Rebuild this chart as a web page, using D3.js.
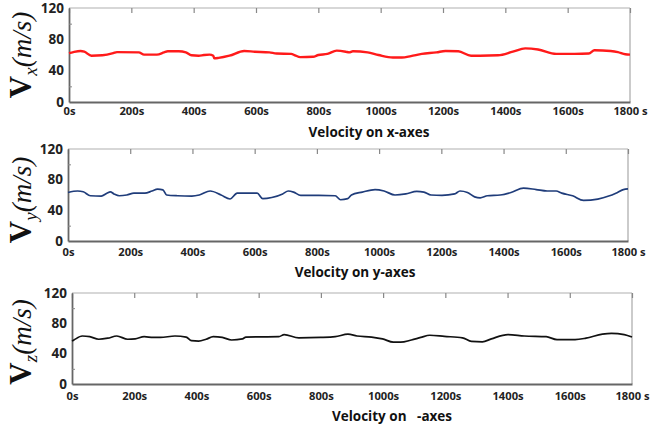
<!DOCTYPE html>
<html><head><meta charset="utf-8">
<script src="https://cdn.jsdelivr.net/npm/d3@7"></script>
<style>
html,body{margin:0;padding:0;background:#fff;}
svg{display:block;}
</style></head>
<body>
<svg id="chart" width="651" height="427"></svg>
<script>
// ---- data ----
const xTickValues = [0,200,400,600,800,1000,1200,1400,1600,1800];
const xTickLabels = ["0s","200s","400s","600s","800s","1000s","1200s","1400s","1600s","1800 s"];
const yTickValues = [0,40,80,120];
const titles = ["Velocity on x-axes","Velocity on y-axes","Velocity on   -axes"];
const subscripts = ["x","y","z"];

const vxTime = [0,14,37,49,72,107,142,154,224,241,282,305,317,352,375,393,416,433,451,463,466,480,515,562,596,643,666,713,725,742,783,800,829,859,888,899,911,958,993,1039,1068,1097,1132,1179,1208,1249,1290,1319,1377,1424,1464,1505,1563,1622,1668,1686,1738,1761,1785,1800];
const vxValues = [62.3,63.7,65.1,64.2,59.1,59.6,62.3,63.7,63.3,60.5,60.5,63.3,64.7,64.7,63.3,59.6,59.1,60.0,60.5,59.1,55.8,56.3,59.1,65.1,64.2,63.3,61.9,61.4,59.6,57.3,57.7,60.0,61.4,65.6,64.2,63.3,64.7,63.3,60.0,56.8,56.8,58.6,61.4,63.3,65.1,64.7,59.1,59.1,59.6,64.2,68.4,67.0,61.4,61.4,61.9,66.1,65.1,63.7,60.9,60.5];

const vyTime = [0,31,49,72,107,125,136,148,165,189,212,247,270,288,305,317,352,398,422,457,492,521,544,608,626,655,690,708,725,748,806,859,876,899,911,946,987,1016,1051,1086,1121,1144,1167,1202,1243,1260,1284,1307,1325,1348,1389,1424,1464,1505,1540,1569,1587,1622,1657,1703,1738,1761,1785,1800];
const vyValues = [63.3,65.2,64.2,59.0,58.6,62.4,64.2,61.4,59.0,60.0,62.4,62.4,65.2,67.6,66.6,60.0,59.0,58.6,60.0,65.2,60.0,54.8,62.4,62.4,55.2,56.7,61.4,65.2,63.8,59.5,59.5,59.0,53.8,55.2,60.0,63.8,67.1,65.2,60.0,61.4,64.7,63.8,60.0,59.5,61.4,65.2,63.3,57.6,56.2,59.0,60.0,63.3,69.0,67.1,65.2,65.2,62.4,59.0,52.9,54.7,58.6,62.4,67.1,68.0];

const vzTime = [0,6,33,57,86,115,144,179,203,232,261,284,331,367,384,407,431,454,483,513,548,559,665,682,729,799,846,887,916,963,998,1033,1056,1091,1121,1150,1197,1255,1284,1319,1348,1401,1454,1524,1559,1617,1652,1705,1734,1775,1800];
const vzValues = [56.6,58.0,63.3,62.4,59.0,60.4,63.3,59.0,59.5,62.4,61.4,61.4,63.3,61.9,57.1,56.6,59.0,62.4,61.4,58.0,59.5,61.9,62.4,65.2,60.9,61.4,62.4,65.7,63.3,61.9,59.5,55.1,55.1,58.0,61.4,64.3,62.8,60.9,56.1,55.6,59.5,65.2,63.3,62.4,58.5,58.5,60.4,65.7,66.7,65.2,61.9];

const seriesTimes = [vxTime, vyTime, vzTime];
const seriesValues = [vxValues, vyValues, vzValues];

// ---- layout ----
const panels = [
  {left:69, right:630, top:8,   bottom:102, color:"#ff1a1a", width:2.4, tickY:115, titleY:137, labelY:55,  titleX:369},
  {left:68, right:628, top:149, bottom:241, color:"#1f3c7a", width:1.7, tickY:256, titleY:277, labelY:200, titleX:355},
  {left:72, right:632, top:293, bottom:384, color:"#111111", width:1.7, tickY:400, titleY:421, labelY:342, titleX:392}
];

const svg = d3.select("#chart");

panels.forEach((p, i) => {
  const x = d3.scaleLinear().domain([0,1800]).range([p.left, p.right]);
  const y = d3.scaleLinear().domain([0,120]).range([p.bottom, p.top]);
  const g = svg.append("g");

  // frame top & right
  g.append("line").attr("x1",p.left).attr("x2",p.right).attr("y1",p.top).attr("y2",p.top)
    .attr("stroke","#b0b0b0").attr("stroke-width",1.2);
  g.append("line").attr("x1",p.right).attr("x2",p.right).attr("y1",p.top).attr("y2",p.bottom)
    .attr("stroke","#a8a8a8").attr("stroke-width",1.2);

  // top ticks
  const topAxis = d3.axisTop(x).tickValues(xTickValues).tickSize(-5).tickFormat("");
  const ta = g.append("g").attr("transform",`translate(0,${p.top})`).call(topAxis);
  ta.select(".domain").remove();
  ta.selectAll("line").attr("stroke","#888").attr("stroke-width",1.2);

  // bottom axis
  const bottomAxis = d3.axisBottom(x).tickValues(xTickValues).tickSize(0)
    .tickFormat((d,k) => xTickLabels[k]);
  const ba = g.append("g").attr("transform",`translate(0,${p.bottom})`).call(bottomAxis);
  ba.select(".domain").attr("stroke","#666").attr("stroke-width",1.8);
  ba.selectAll("text").attr("y", p.tickY - p.bottom).attr("dy",0)
    .attr("font-family","'Open Sans', sans-serif").attr("font-weight",700)
    .attr("font-size",11.2).attr("fill","#222");

  // left axis
  const leftAxis = d3.axisLeft(y).tickValues(yTickValues).tickSize(0).tickPadding(5);
  const la = g.append("g").attr("transform",`translate(${p.left},0)`).call(leftAxis);
  la.select(".domain").attr("stroke","#666").attr("stroke-width",1.8);
  la.selectAll("text").attr("font-family","'Open Sans', sans-serif").attr("font-weight",700)
    .attr("font-size",13.5).attr("fill","#222");
  // minor inner ticks
  const minor = d3.axisRight(y).tickValues([20,100]).tickSize(3).tickFormat("");
  const ma = g.append("g").attr("transform",`translate(${p.left},0)`).call(minor);
  ma.select(".domain").remove();
  ma.selectAll("line").attr("stroke","#888");

  // line
  const data = seriesTimes[i].map((t,k) => [t, seriesValues[i][k]]);
  const line = d3.line().x(d => x(d[0])).y(d => y(d[1])).curve(d3.curveMonotoneX);
  g.append("path").datum(data).attr("d", line).attr("fill","none")
    .attr("stroke", p.color).attr("stroke-width", p.width).attr("stroke-linejoin","round");

  // title
  g.append("text").attr("x", p.titleX).attr("y", p.titleY).attr("text-anchor","middle")
    .attr("font-family","'Open Sans', sans-serif").attr("font-weight",700)
    .attr("font-size",13.5).attr("fill","#111").attr("xml:space","preserve")
    .style("white-space","pre").text(titles[i]);

  // y label
  const lab = g.append("text").attr("transform",`translate(31,${p.labelY}) rotate(-90)`)
    .attr("text-anchor","middle").attr("font-family","'Liberation Serif','DejaVu Serif',serif")
    .attr("font-size",27).attr("fill","#111");
  lab.append("tspan").attr("font-weight",700).attr("font-size",31).text("V");
  lab.append("tspan").attr("font-style","italic").attr("font-size",19).attr("dy",6).text(subscripts[i]);
  lab.append("tspan").attr("font-style","italic").attr("dy",-6).text("(m/s)");
});
</script>
</body></html>
